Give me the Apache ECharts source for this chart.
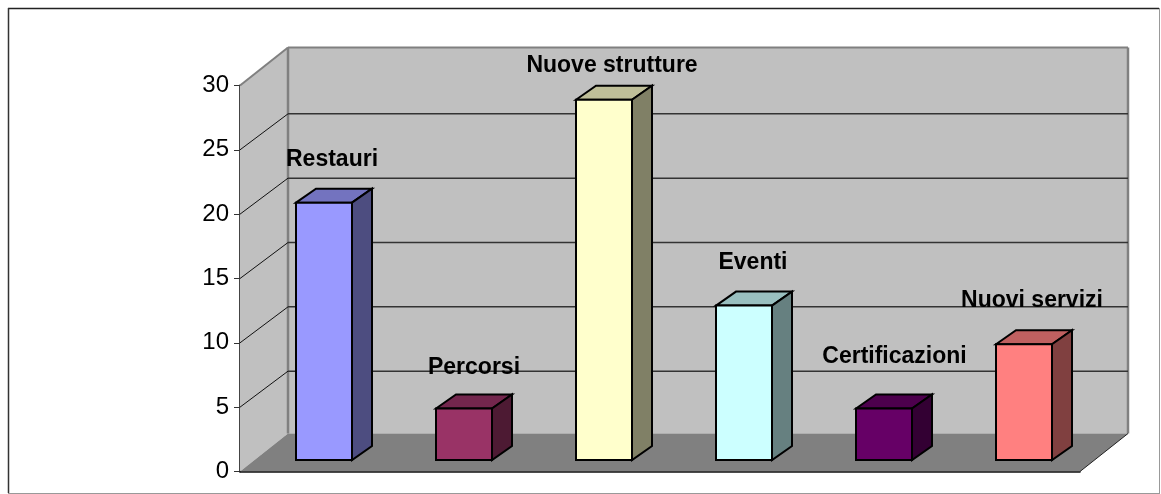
<!DOCTYPE html>
<html><head><meta charset="utf-8">
<style>html,body{margin:0;padding:0;background:#fff}#c{width:1161px;height:494px}</style>
<script src="https://cdn.jsdelivr.net/npm/echarts@6/dist/echarts.min.js"></script>
</head><body><div id="c"></div>
<script>
const categories = ['Restauri','Percorsi','Nuove strutture','Eventi','Certificazioni','Nuovi servizi'];
const values = [20,4,28,12,4,9];
const yTicks = [0,5,10,15,20,25,30];
const frontColors = ['#9999FF','#993366','#FFFFCC','#CCFFFF','#660066','#FF8080'];
const topColors = ['#7373BF','#73264D','#BFBF99','#99BFBF','#4D004D','#BF6060'];
const sideColors = ['#4D4D80','#4D1A33','#808066','#668080','#330033','#804040'];
const labelLift = [30,28,21,30,39,31];
const labelShift = [-2,0,-2,-1,0.5,-2];
const FONT = '"Liberation Sans", Arial, sans-serif';
const DX = 48, DY = -38, GRID_DY = -36;          // wall depth
const BAR_NEAR = [14,-11.5], BAR_DEPTH = [20,-14];

function poly(points, fill, stroke, lw){
  return {type:'polygon', shape:{points}, style:{fill, stroke:stroke||'none', lineWidth:lw||0, lineJoin:'miter'}};
}
function line(a,b,stroke,lw){
  return {type:'line', shape:{x1:a[0],y1:a[1],x2:b[0],y2:b[1]}, style:{stroke, lineWidth:lw, fill:'none'}};
}
function renderWalls(params, api){
  const g = params.coordSys;
  const L=g.x, R=g.x+g.width, T=g.y, B=g.y+g.height;
  return {type:'group', children:[
    poly([[L,T],[L+DX,T+DY],[L+DX,B+DY],[L,B]],'#C0C0C0'),
    poly([[L+DX,T+DY],[R+DX,T+DY],[R+DX,B+DY],[L+DX,B+DY]],'#C0C0C0'),
    poly([[L,B],[L+DX,B+DY],[R+DX,B+DY],[R,B]],'#808080'),
    line([L,T],[L+DX,T+DY],'#808080',2),
    line([L+DX,T+DY],[R+DX,T+DY],'#808080',2),
    line([L+DX,T+DY],[L+DX,B+DY],'#808080',2.5),
    line([R+DX,T+DY],[R+DX,B+DY],'#808080',2.5),
    line([R,B],[R+DX,B+DY],'#222',1)
  ]};
}
function renderGrid(params, api){
  const g = params.coordSys;
  const y = api.coord([0, api.value(1)])[1];
  const L=g.x, R=g.x+g.width;
  if (api.value(1) === 0 || api.value(1) === 30) return {type:'group',children:[]};
  return {type:'group', children:[
    line([L,y],[L+DX,y+GRID_DY],'#111',1),
    line([L+DX,y+GRID_DY],[R+DX,y+GRID_DY],'#333',1.5)
  ]};
}
function renderBar(params, api){
  const i = api.value(0), v = api.value(1);
  const base = api.coord([i,0]), top = api.coord([i,v]);
  const w = api.size([1,0])[0]*0.4;
  const x0 = base[0]-w/2+BAR_NEAR[0], x1 = x0+w;
  const yb = base[1]+BAR_NEAR[1], yt = top[1]+BAR_NEAR[1];
  const dx = BAR_DEPTH[0], dy = BAR_DEPTH[1];
  const s = '#000', lw = 2;
  return {type:'group', children:[
    poly([[x0,yt],[x0+dx,yt+dy],[x1+dx,yt+dy],[x1,yt]],topColors[i],s,lw),
    poly([[x1,yt],[x1+dx,yt+dy],[x1+dx,yb+dy],[x1,yb]],sideColors[i],s,lw),
    poly([[x0,yt],[x1,yt],[x1,yb],[x0,yb]],frontColors[i],s,lw)
  ]};
}
function renderLabel(params, api){
  const i = api.value(0), v = api.value(1);
  const base = api.coord([i,0]), top = api.coord([i,v]);
  const yt = top[1]+BAR_NEAR[1]+BAR_DEPTH[1];
  return {type:'text', style:{
    text:categories[i], x:base[0]+BAR_NEAR[0]+BAR_DEPTH[0]/2+labelShift[i], y:yt-labelLift[i]+1,
    align:'center', verticalAlign:'middle',
    font:'bold 23px '+FONT, fill:'#000'
  }};
}
const barData = values.map((v,i)=>[i,v]);
const chart = echarts.init(document.getElementById('c'),null,{renderer:'canvas'});
chart.setOption({
  animation:false,
  backgroundColor:'#fff',
  grid:{left:240,right:81,top:85.5,bottom:22.5,containLabel:false},
  xAxis:{type:'category',data:categories,axisLabel:{show:false},axisTick:{show:false},
    axisLine:{show:true,onZero:false,lineStyle:{color:'#111',width:1.5}},z:5},
  yAxis:{type:'value',min:0,max:30,interval:5,
    axisLine:{show:true,lineStyle:{color:'#444',width:2}},
    axisTick:{show:true,length:6,lineStyle:{color:'#333',width:1}},
    axisLabel:{fontSize:24,color:'#000',fontFamily:FONT,margin:11,padding:[2,0,0,0]},
    splitLine:{show:false}},
  series:[
    {type:'custom',name:'walls',data:[[0,0]],renderItem:renderWalls,clip:false,silent:true,z:1},
    {type:'custom',name:'grid',data:yTicks.map(t=>[0,t]),renderItem:renderGrid,clip:false,silent:true,z:2},
    {type:'custom',name:'bars',data:barData,renderItem:renderBar,clip:false,z:3},
    {type:'custom',name:'labels',data:barData,renderItem:renderLabel,clip:false,silent:true,z:4}
  ],
  graphic:[
    {type:'line',shape:{x1:8,y1:8.5,x2:1159,y2:8.5},style:{stroke:'#222',lineWidth:1.5}},
    {type:'line',shape:{x1:8.5,y1:8,x2:8.5,y2:493},style:{stroke:'#333',lineWidth:1.5}},
    {type:'line',shape:{x1:1159.5,y1:8,x2:1159.5,y2:493},style:{stroke:'#999',lineWidth:1}},
    {type:'line',shape:{x1:8,y1:493.5,x2:1160,y2:493.5},style:{stroke:'#999',lineWidth:1}}
  ]
});
</script></body></html>
